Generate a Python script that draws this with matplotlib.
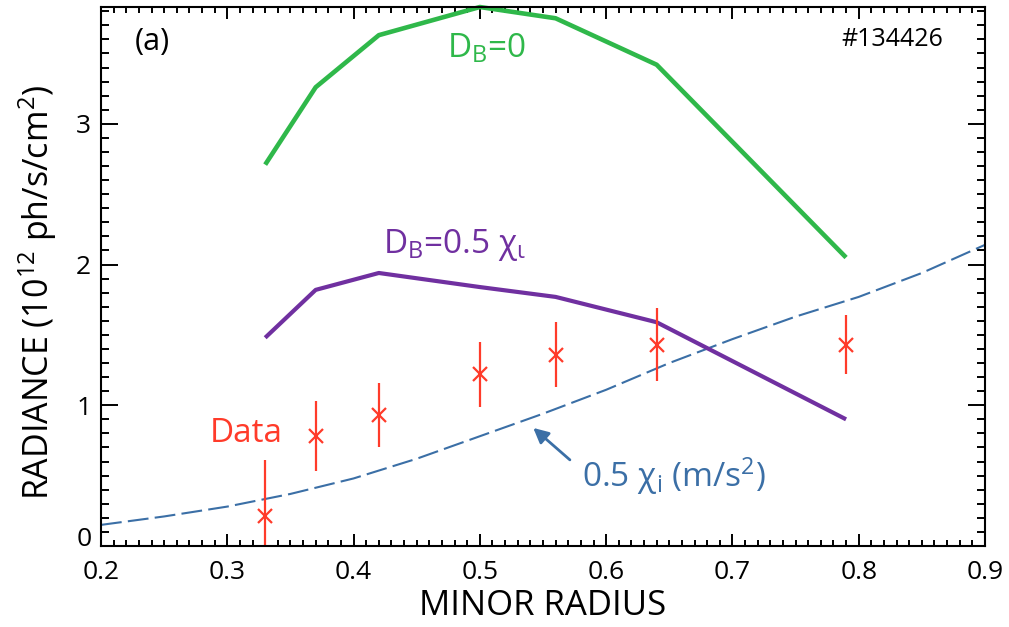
import matplotlib
matplotlib.use('Agg')
import matplotlib.pyplot as plt
from matplotlib.ticker import MultipleLocator

plt.rcParams['font.family'] = ['Open Sans', 'DejaVu Sans']
plt.rcParams['mathtext.fontset'] = 'custom'
plt.rcParams['mathtext.rm'] = 'Open Sans'
plt.rcParams['mathtext.it'] = 'Open Sans'

# model radii and radiance (10^12 ph/s/cm^2)
radius = [0.33, 0.37, 0.42, 0.50, 0.56, 0.64, 0.79]
db_zero = [2.71, 3.26, 3.63, 3.83, 3.75, 3.42, 2.05]
db_half = [1.48, 1.82, 1.94, 1.84, 1.77, 1.59, 0.90]

# measured radiance with error bars
data_y = [0.21, 0.78, 0.93, 1.22, 1.36, 1.43, 1.43]
data_err = [0.40, 0.25, 0.23, 0.23, 0.23, 0.26, 0.21]

# 0.5 chi_i profile
chi_x = [0.20, 0.25, 0.30, 0.35, 0.40, 0.45, 0.50, 0.55, 0.60, 0.65, 0.70, 0.75, 0.80, 0.85, 0.90]
chi_y = [0.15, 0.21, 0.28, 0.37, 0.48, 0.62, 0.78, 0.94, 1.11, 1.30, 1.47, 1.63, 1.77, 1.94, 2.14]

green = '#2fb84a'
purple = '#7030a0'
red = '#ff3b2a'
blue = '#3b6fa6'

fig = plt.figure(figsize=(10.09, 6.27), dpi=100)
ax = fig.add_axes([0.1001, 0.1292, 0.8761, 0.8596])

ax.plot(chi_x, chi_y, color=blue, lw=1.5, dashes=(10, 3), clip_on=False)
ax.plot(radius, db_zero, color=green, lw=3.3, clip_on=False, solid_capstyle='butt')
ax.plot(radius, db_half, color=purple, lw=3.0, solid_capstyle='butt')
ax.errorbar(radius, data_y, yerr=data_err, fmt='x', color=red, ms=10, mew=1.6,
            elinewidth=1.6, capsize=0)

ax.set_xlim(0.2, 0.9)
ax.set_ylim(0, 3.83)
ax.xaxis.set_major_locator(MultipleLocator(0.1))
ax.xaxis.set_minor_locator(MultipleLocator(0.01))
ax.yaxis.set_major_locator(MultipleLocator(1))
ax.yaxis.set_minor_locator(MultipleLocator(0.1))
ax.xaxis.set_major_formatter(plt.FuncFormatter(lambda v, p: f'{v:.1f}'))

ax.tick_params(which='both', direction='in', top=True, right=True, width=1.4, labelsize=19)
ax.tick_params(axis='x', which='major', length=8.5, pad=10)
ax.tick_params(axis='x', which='minor', length=4.5)
ax.tick_params(axis='y', which='major', length=12.5, pad=7)
ax.tick_params(axis='y', which='minor', length=6)
for s in ax.spines.values():
    s.set_linewidth(1.5)

ax.set_xlabel('MINOR RADIUS', fontsize=25, labelpad=3)
ax.set_ylabel('RADIANCE (10$^{12}$ ph/s/cm$^{2}$)', fontsize=24.5)
ax.yaxis.set_label_coords(-0.047, 0.471)

ax.text(0.227, 3.58, '(a)', fontsize=22, va='center', ha='left')
ax.text(0.867, 3.60, '#134426', fontsize=18, va='center', ha='right')
ax.text(0.474, 3.53, 'D$_\\mathrm{B}$=0', fontsize=24, color=green, va='center', ha='left')
ax.text(0.423, 2.14, 'D$_\\mathrm{B}$=0.5 χ$_\\mathrm{ι}$', fontsize=24, color=purple,
        va='center', ha='left')
ax.text(0.286, 0.80, 'Data', fontsize=24, color=red, va='center', ha='left')
ax.text(0.581, 0.50, '0.5 χ$_\\mathrm{i}$ (m/s$^{2}$)', fontsize=24, color=blue,
        va='center', ha='left')
ax.annotate('', xy=(0.5423, 0.839), xytext=(0.5713, 0.612),
            arrowprops=dict(arrowstyle='-|>,head_length=0.9,head_width=0.45',
                            color=blue, lw=2, shrinkA=0, shrinkB=0))

# sit the "0" label on the axis so it clears the x tick labels
fig.canvas.draw()
for t in ax.yaxis.get_major_ticks():
    if abs(t.get_loc()) < 1e-9:
        t.label1.set_verticalalignment('baseline')

fig.savefig('out.png', dpi=100)
